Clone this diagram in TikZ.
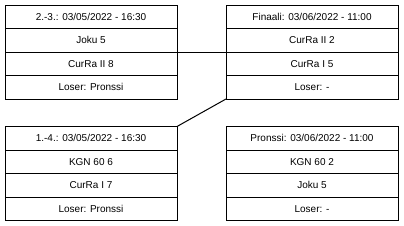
\documentclass[tikz,border=0pt]{standalone}
\usepackage{fontspec}
\setmainfont{Liberation Sans}
\usetikzlibrary{positioning}

\tikzset{
  cell/.style={draw, line width=1pt, minimum width=172pt, minimum height=23.5pt,
    inner sep=0pt, outer sep=0pt, font=\fontsize{10}{12}\selectfont},
  link/.style={line width=1pt}
}

\begin{document}
\begin{tikzpicture}[x=1pt,y=1pt]
        \useasboundingbox (0,0) rectangle (404,-225);
        % 2.-3. match
        \node[cell, anchor=north west] (semiA) at (5,-5) {2.-3.: 03/05/2022 - 16:30};
        \node[cell, below=0pt of semiA] (semiAhome) {Joku 5};
        \node[cell, below=0pt of semiAhome] (semiAaway) {CurRa II 8};
        \node[cell, below=0pt of semiAaway] (semiAloser) {Loser: Pronssi};
        % 1.-4. match
        \node[cell, anchor=north west] (semiB) at (5,-126.5) {1.-4.: 03/05/2022 - 16:30};
        \node[cell, below=0pt of semiB] (semiBhome) {KGN 60 6};
        \node[cell, below=0pt of semiBhome] (semiBaway) {CurRa I 7};
        \node[cell, below=0pt of semiBaway] (semiBloser) {Loser: Pronssi};
        % final
        \node[cell, anchor=north west] (final) at (226,-5) {Finaali: 03/06/2022 - 11:00};
        \node[cell, below=0pt of final] (finalhome) {CurRa II 2};
        \node[cell, below=0pt of finalhome] (finalaway) {CurRa I 5};
        \node[cell, below=0pt of finalaway] (finalloser) {Loser: -};
        % bronze
        \node[cell, anchor=north west] (bronze) at (226,-126.5) {Pronssi: 03/06/2022 - 11:00};
        \node[cell, below=0pt of bronze] (bronzehome) {KGN 60 2};
        \node[cell, below=0pt of bronzehome] (bronzeaway) {Joku 5};
        \node[cell, below=0pt of bronzeaway] (bronzeloser) {Loser: -};
        % links
        \draw[link] (semiAhome.south east) -- (finalhome.south west);
        \draw[link] (semiB.north east) -- (finalloser.south west);
\end{tikzpicture}
\end{document}
